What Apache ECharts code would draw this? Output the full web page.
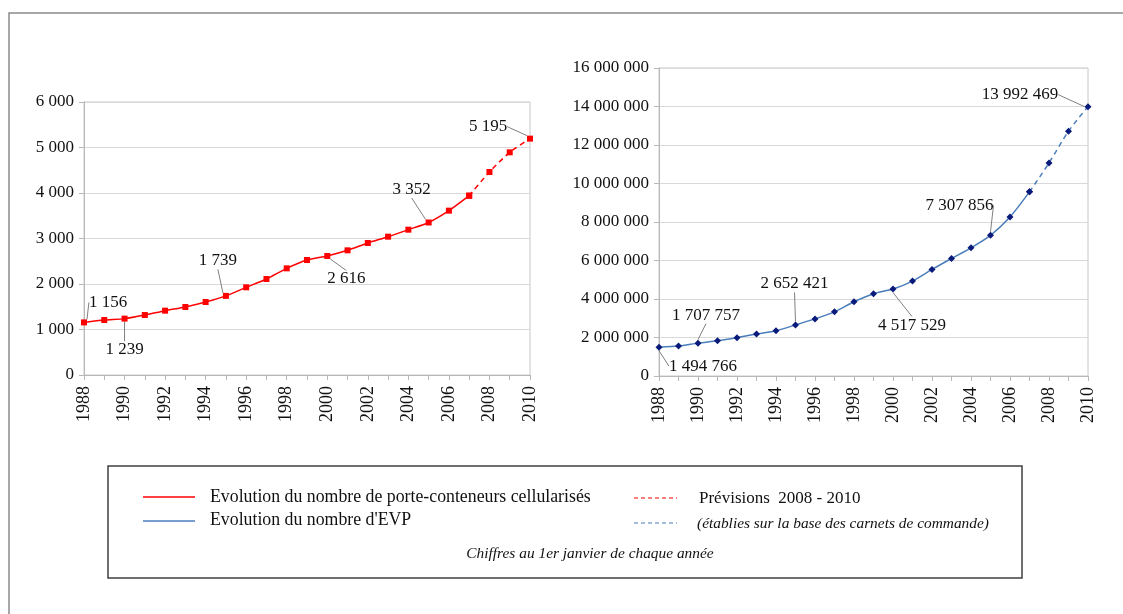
<!DOCTYPE html>
<html>
<head>
<meta charset="utf-8">
<script src="https://cdn.jsdelivr.net/npm/echarts@6/dist/echarts.min.js"></script>
<style>
  html,body{margin:0;padding:0;background:#fff;}
  #chart{width:1123px;height:614px;}
</style>
</head>
<body>
<div id="chart"></div>
<script>
  // years 1988 -> 2010, forecasts from 2008
  let years = ['1988','1989','1990','1991','1992','1993','1994','1995','1996','1997','1998','1999',
               '2000','2001','2002','2003','2004','2005','2006','2007','2008','2009','2010'];
  // nombre de porte-conteneurs cellularisés
  let ships = [1156,1209,1239,1318,1414,1495,1604,1739,1927,2110,2344,2527,
               2616,2740,2901,3040,3194,3352,3612,3941,4462,4894,5195];
  // nombre d'EVP
  let teu = [1494766,1553000,1707757,1833000,1990000,2182000,2356000,2652421,2967000,3333000,3857000,4276000,
             4517529,4930000,5535000,6105000,6660000,7307856,8260000,9565000,11065000,12720000,13992469];
  let shipTicks = [0,1000,2000,3000,4000,5000,6000];
  let teuTicks = [0,2000000,4000000,6000000,8000000,10000000,12000000,14000000,16000000];
  let labelledYears = ['1988','1990','1995','2000','2005','2010'];
  let lastReal = '2007';

  // label offsets (px) from the point, per labelled year
  let shipOffsets = {'1988':[24,-20],'1990':[0,31],'1995':[-8,-35],'2000':[19,23],'2005':[-17,-33],'2010':[-42,-12]};
  let teuOffsets = {'1988':[44,19],'1990':[8,-28],'1995':[-1,-41],'2000':[19,36],'2005':[-31,-30],'2010':[-68,-12]};

  let serif = 'Liberation Serif';

  function fmt(v){
    return String(v).replace(/\B(?=(\d{3})+(?!\d))/g,' ');
  }

  let cut = years.indexOf(lastReal);

  function buildData(values, part){
    return values.map(function(v,i){
      let inPart = part==='solid' ? i<=cut : i>=cut;
      if(!inPart) return null;
      let y = years[i];
      let showLab = labelledYears.indexOf(y)>=0 && (part==='solid' ? y!=='2010' : y==='2010');
      if(showLab){
        return {value:v,label:{show:true}};
      }
      return v;
    });
  }

  function makeSeries(values, idx, color, markerColor, symbol, part, offsets){
    return {
      type:'line',
      xAxisIndex:idx,
      yAxisIndex:idx,
      data:buildData(values, part),
      smooth:0.25,
      symbol:symbol,
      symbolSize:symbol==='diamond'?7:6,
      connectNulls:false,
      lineStyle:{color:color,width:1.5,type:part==='solid'?'solid':[5,4]},
      itemStyle:{color:markerColor},
      label:{
        show:false,
        position:'inside',
        formatter:function(p){return fmt(p.value);},
        fontFamily:serif,
        fontSize:17,
        color:'#111'
      },
      labelLine:{show:true,lineStyle:{color:'#808080',width:1}},
      labelLayout:function(params){
        let o = offsets[years[params.dataIndex]];
        if(!o) return {};
        return {dx:o[0],dy:o[1]};
      },
      emphasis:{disabled:true}
    };
  }

  function xAxis(idx){
    return {
      type:'category',
      gridIndex:idx,
      data:years,
      boundaryGap:false,
      axisLine:{lineStyle:{color:'#b8b8b8',width:1}},
      axisTick:{show:true,interval:0,length:5,lineStyle:{color:'#b8b8b8'}},
      axisLabel:{interval:1,rotate:90,margin:11,fontFamily:serif,fontSize:18,color:'#111'},
      splitLine:{show:false}
    };
  }

  function yAxis(idx, ticks){
    return {
      type:'value',
      gridIndex:idx,
      min:ticks[0],
      max:ticks[ticks.length-1],
      interval:ticks[1]-ticks[0],
      axisLine:{show:true,lineStyle:{color:'#b8b8b8',width:1}},
      axisTick:{show:true,length:5,lineStyle:{color:'#b8b8b8'}},
      axisLabel:{margin:10,fontFamily:serif,fontSize:17,color:'#111',formatter:fmt},
      splitLine:{show:true,lineStyle:{color:'#d9d9d9',width:1}}
    };
  }

  let myChart = echarts.init(document.getElementById('chart'), null, {renderer:'canvas'});
  let legendFont = '17.8px "Liberation Serif"';
  let prevFont = '17px "Liberation Serif"';
  let italicFont = 'italic 15.4px "Liberation Serif"';

  let option = {
    animation:false,
    backgroundColor:'#fff',
    grid:[
      {left:84,right:593,top:102,bottom:239,show:true,borderColor:'#c8c8c8',borderWidth:1,containLabel:false},
      {left:659,right:35,top:68,bottom:238,show:true,borderColor:'#c8c8c8',borderWidth:1,containLabel:false}
    ],
    xAxis:[xAxis(0),xAxis(1)],
    yAxis:[yAxis(0,shipTicks),yAxis(1,teuTicks)],
    series:[
      makeSeries(ships,0,'#ff0000','#ff0000','rect','solid',shipOffsets),
      makeSeries(ships,0,'#ff0000','#ff0000','rect','dashed',shipOffsets),
      makeSeries(teu,1,'#4a7ebb','#0a1a7a','diamond','solid',teuOffsets),
      makeSeries(teu,1,'#4a7ebb','#0a1a7a','diamond','dashed',teuOffsets)
    ],
    graphic:[
      // outer frame
      {type:'polyline',silent:true,shape:{points:[[9,614],[9,13],[1123,13]]},style:{stroke:'#8a8a8a',lineWidth:1.5,fill:null}},
      // legend box
      {type:'rect',silent:true,shape:{x:108,y:466,width:914,height:112},style:{stroke:'#404040',lineWidth:1.5,fill:'#fff'}},
      {type:'line',silent:true,shape:{x1:143,y1:497,x2:195,y2:497},style:{stroke:'#ff0000',lineWidth:1.5}},
      {type:'line',silent:true,shape:{x1:143,y1:521,x2:195,y2:521},style:{stroke:'#4a7ebb',lineWidth:1.5}},
      {type:'text',silent:true,x:210,y:497,style:{text:'Evolution du nombre de porte-conteneurs cellularisés',font:legendFont,fill:'#111',verticalAlign:'middle'}},
      {type:'text',silent:true,x:210,y:520,style:{text:"Evolution du nombre d'EVP",font:legendFont,fill:'#111',verticalAlign:'middle'}},
      {type:'line',silent:true,shape:{x1:634,y1:498,x2:677,y2:498},style:{stroke:'#ff0000',lineWidth:1.2,lineDash:[4,3]}},
      {type:'line',silent:true,shape:{x1:634,y1:523,x2:677,y2:523},style:{stroke:'#4a7ebb',lineWidth:1.2,lineDash:[4,3]}},
      {type:'text',silent:true,x:699,y:499,style:{text:'Prévisions  2008 - 2010',font:prevFont,fill:'#111',verticalAlign:'middle'}},
      {type:'text',silent:true,x:697,y:524,style:{text:'(établies sur la base des carnets de commande)',font:italicFont,fill:'#111',verticalAlign:'middle'}},
      {type:'text',silent:true,x:590,y:554,style:{text:'Chiffres au 1er janvier de chaque année',font:italicFont,fill:'#111',align:'center',verticalAlign:'middle'}}
    ]
  };
  myChart.setOption(option);
  window.addEventListener('resize',function(){
    myChart.resize();
  });
</script>
</body>
</html>
